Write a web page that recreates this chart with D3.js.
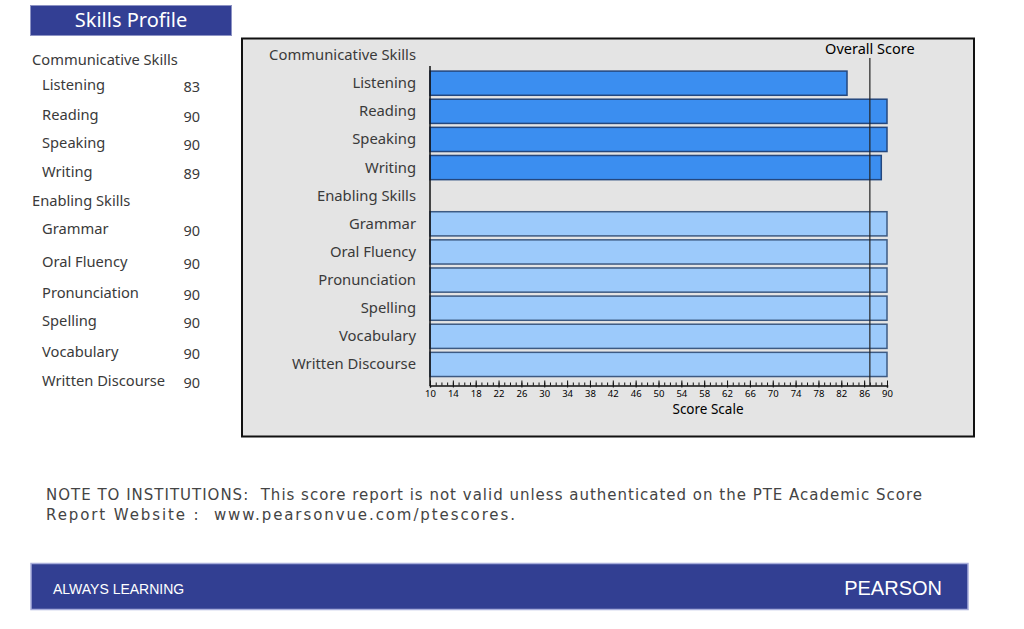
<!DOCTYPE html>
<html><head><meta charset="utf-8">
<script src="https://cdn.jsdelivr.net/npm/d3@7"></script>
<style>
body{margin:0;background:#fff;}
svg{display:block;}
</style></head>
<body>
<svg id="c" width="1024" height="629"></svg>
<script>
const categories = ["Communicative Skills","Listening","Reading","Speaking","Writing","Enabling Skills","Grammar","Oral Fluency","Pronunciation","Spelling","Vocabulary","Written Discourse"];
const groups = ["header","comm","comm","comm","comm","header","enab","enab","enab","enab","enab","enab"];
const scores = [null,83,90,90,89,null,90,90,90,90,90,90];
const overallScore = 87;
const tickValues = [10,14,18,22,26,30,34,38,42,46,50,54,58,62,66,70,74,78,82,86,90];
const tableRowsY = [60,85,115,143,172,201,229,262,293,321,352,381];

const svg = d3.select("#c");
const font = "'Noto Sans', 'Open Sans', sans-serif";

// Title box
svg.append("rect").attr("x",30.5).attr("y",5.5).attr("width",201).attr("height",30)
  .attr("fill","#333f94").attr("stroke","#8d93c4").attr("stroke-width",1);
svg.append("text").attr("x",131).attr("y",27).attr("text-anchor","middle")
  .attr("fill","#fff").attr("font-family",font).attr("font-size",20).text("Skills Profile");

// Left table
categories.forEach((c,i)=>{
  const isHead = groups[i]==="header";
  svg.append("text").attr("x", isHead?32:42).attr("y", tableRowsY[i]+5)
    .attr("font-family",font).attr("font-size",14.7).attr("fill","#3a3a3a").text(c);
  if(scores[i]!==null){
    svg.append("text").attr("x",200).attr("y",tableRowsY[i]+7).attr("text-anchor","end")
      .attr("font-family",font).attr("font-size",14.5).attr("fill","#3a3a3a").text(scores[i]);
  }
});

// Chart panel
svg.append("rect").attr("x",242).attr("y",38.5).attr("width",732).attr("height",398)
  .attr("fill","#e4e4e4").attr("stroke","#111").attr("stroke-width",2);

const x = d3.scaleLinear().domain([10,90]).range([430,887]);
const y = d3.scaleBand().domain(categories).range([41,378.5]).paddingInner(0.14).paddingOuter(0.07);

// bars
svg.append("g").selectAll("rect").data(categories.map((c,i)=>({c,v:scores[i],g:groups[i]})).filter(d=>d.v!==null))
  .join("rect")
  .attr("x",x(10)).attr("y",d=>y(d.c)).attr("width",d=>x(d.v)-x(10)).attr("height",y.bandwidth())
  .attr("fill",d=>d.g==="comm"?"#3b8ef0":"#9ccafb")
  .attr("stroke",d=>d.g==="comm"?"#24477e":"#3d5a82").attr("stroke-width",1.5);

// category labels
svg.append("g").selectAll("text").data(categories).join("text")
  .attr("x",416).attr("y",d=>y(d)+y.bandwidth()/2+5).attr("text-anchor","end")
  .attr("font-family",font).attr("font-size",14.8).attr("fill","#3a3a3a").text(d=>d);

// y axis line
svg.append("line").attr("x1",430).attr("x2",430).attr("y1",66).attr("y2",386)
  .attr("stroke","#111").attr("stroke-width",1.5);

// x axis
const axisY = 385.5;
const xa = svg.append("g").attr("transform",`translate(0,${axisY})`);
xa.call(d3.axisBottom(x).tickValues(d3.range(10,91,1)).tickSize(2).tickFormat(""));
xa.select(".domain").attr("stroke","#111").attr("stroke-width",1.5);
xa.selectAll(".tick line").attr("stroke","#111").attr("y1",-3).attr("y2",0);
const xb = svg.append("g").attr("transform",`translate(0,${axisY})`);
xb.call(d3.axisBottom(x).tickValues(tickValues).tickSize(4).tickFormat(d=>d));
xb.select(".domain").remove();
xb.selectAll(".tick line").attr("stroke","#111").attr("y1",-5).attr("y2",2);
xb.selectAll(".tick text").attr("font-family",font).attr("font-size",9.5).attr("fill","#000").attr("dy","0.75em").attr("y",4);

svg.append("text").attr("x",708).attr("y",414).attr("text-anchor","middle")
  .attr("font-family",font).attr("font-size",13.5).attr("fill","#000").text("Score Scale");

// overall score
svg.append("line").attr("x1",x(overallScore)).attr("x2",x(overallScore)).attr("y1",58).attr("y2",386)
  .attr("stroke","#222").attr("stroke-width",1.2);
svg.append("text").attr("x",x(overallScore)).attr("y",54).attr("text-anchor","middle")
  .attr("font-family",font).attr("font-size",14.5).attr("fill","#000").text("Overall Score");

// note
const noteFont = "'DejaVu Sans', Verdana, sans-serif";
svg.append("text").attr("x",46).attr("y",500).attr("font-family",noteFont).attr("font-size",15)
  .attr("fill","#444").style("white-space","pre").attr("textLength",876).attr("lengthAdjust","spacing")
  .text("NOTE TO INSTITUTIONS:  This score report is not valid unless authenticated on the PTE Academic Score");
svg.append("text").attr("x",46).attr("y",520).attr("font-family",noteFont).attr("font-size",15)
  .attr("fill","#444").style("white-space","pre").attr("textLength",469).attr("lengthAdjust","spacing")
  .text("Report Website :  www.pearsonvue.com/ptescores.");

// footer
svg.append("rect").attr("x",31).attr("y",563.5).attr("width",937).attr("height",46)
  .attr("fill","#323f92").attr("stroke","#a9aedb").attr("stroke-width",1.5);
svg.append("text").attr("x",53).attr("y",594).attr("font-family","'Liberation Sans', Arial, sans-serif").attr("font-size",14)
  .attr("fill","#fff").text("ALWAYS LEARNING");
svg.append("text").attr("x",942).attr("y",595).attr("text-anchor","end").attr("font-family","'Liberation Sans', Arial, sans-serif").attr("font-size",20)
  .attr("fill","#fff").text("PEARSON");
</script>
</body></html>
